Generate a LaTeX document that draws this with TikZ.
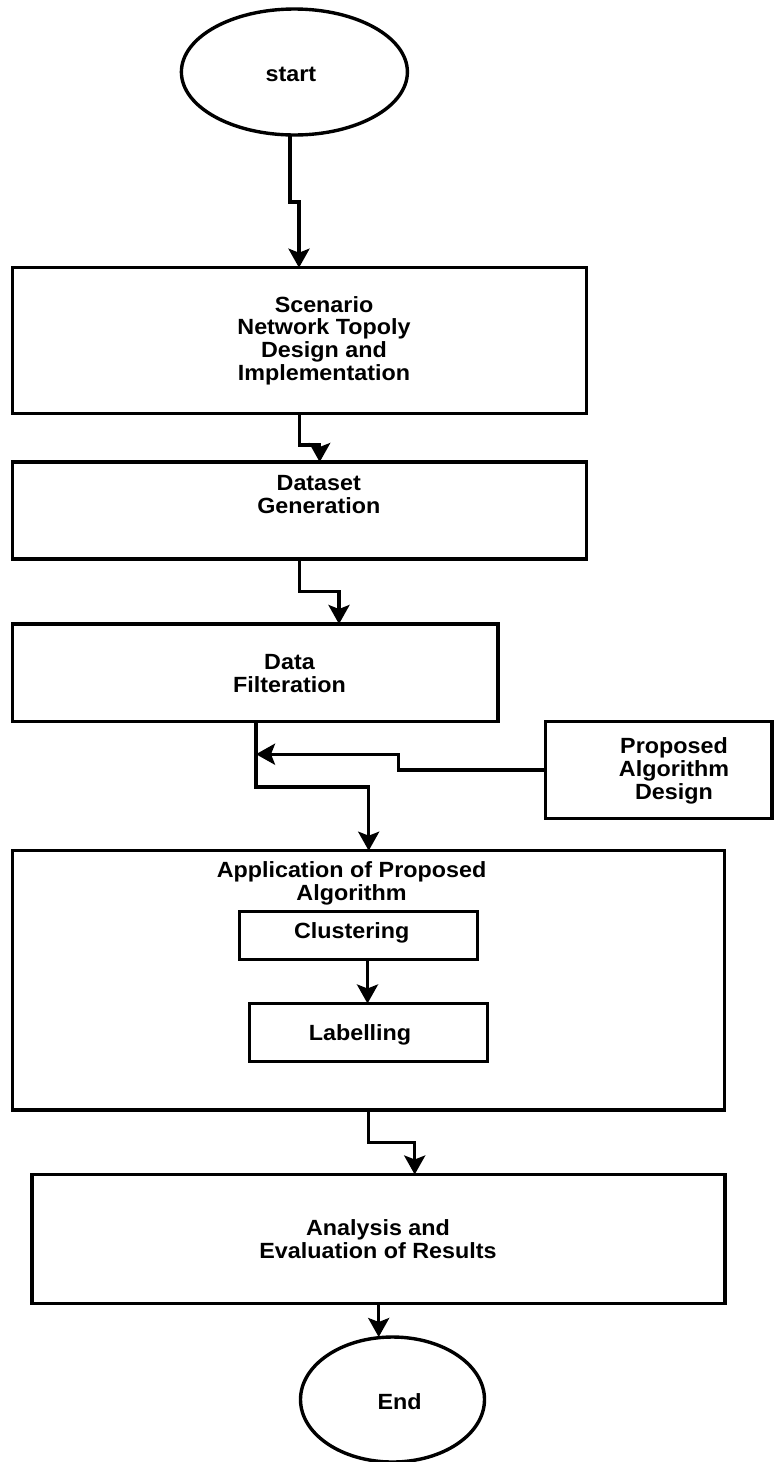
\documentclass[tikz,border=0pt]{standalone}
\usepackage{fontspec}
\setmainfont{Liberation Sans}[FakeStretch=1.06]
\usetikzlibrary{arrows.meta,shapes.geometric}
\begin{document}
\begin{tikzpicture}[x=1pt,y=1pt,
  box/.style={draw,line width=3.4pt,rectangle,inner sep=0pt,outer sep=0pt},
  oval/.style={draw,line width=3.4pt,ellipse,inner sep=0pt,outer sep=0pt},
  txt/.style={font=\fontsize{22}{22.7}\selectfont\bfseries,align=center,inner sep=0pt},
  conn/.style={line width=3.4pt,-{Stealth[length=19pt,width=21pt,inset=4pt]}},
  wire/.style={line width=3.4pt}]
\fill[white] (0,0) rectangle (775,-1462);
\useasboundingbox (0,0) rectangle (775,-1462);

% terminals
\node[oval,minimum width=226pt,minimum height=126pt] (start) at (294.4,-72) {};
\node[txt] (tstart) at (291,-74) {start};
\node[oval,minimum width=184pt,minimum height=125pt] (end) at (392.5,-1399.5) {};
\node[txt] (tend) at (399.7,-1401.5) {End};

% process boxes
\node[box,minimum width=573.8pt,minimum height=145.6pt] (b1) at (299.4,-340.5) {};
\node[txt] (t1) at (324,-340.4) {Scenario\\Network Topoly\\Design and\\Implementation};

\node[box,minimum width=573.8pt,minimum height=97pt] (b2) at (299.4,-510.5) {};
\node[txt] (t2) at (318.8,-494.2) {Dataset\\Generation};

\node[box,minimum width=485.5pt,minimum height=97.7pt] (b3) at (255.25,-672.85) {};
\node[txt] (t3) at (289.5,-673.3) {Data\\Filteration};

\node[box,minimum width=226.3pt,minimum height=96.9pt] (pad) at (658.85,-770.15) {};
\node[txt] (tpad) at (674,-770.7) {Proposed\\Algorithm\\Design};

\node[box,minimum width=712.3pt,minimum height=259.1pt] (app) at (368.55,-980.25) {};
\node[txt] (tapp) at (351.5,-883) {Application of Proposed\\Algorithm};

\node[box,minimum width=238.2pt,minimum height=48pt] (clu) at (358.4,-935.5) {};
\node[txt] (tclu) at (351.7,-932.5) {Clustering};

\node[box,minimum width=238pt,minimum height=58pt] (lab) at (368.3,-1032.5) {};
\node[txt] (tlab) at (360,-1034.5) {Labelling};

\node[box,minimum width=692.9pt,minimum height=129pt] (ana) at (378.55,-1239) {};
\node[txt] (tana) at (378,-1239.4) {Analysis and\\Evaluation of Results};

% connectors
\draw[conn] (290,0 |- start.south) -- (290,-202) -| (299,0 |- b1.north);
\draw[conn] (299.7,0 |- b1.south) -- (299.7,-445) -| (319.7,0 |- b2.north);
\draw[conn] (299.7,0 |- b2.south) -- (299.7,-591.4) -| (339,0 |- b3.north);
\coordinate (join) at (256,-754.2);
\draw[conn] (256,0 |- b3.south) -- (join) -- (256,-786.8) -| (368.7,0 |- app.north);
\draw[conn] (pad.west) -- (398.7,0 |- pad.west) |- (join);
\draw[conn] (367.5,0 |- clu.south) -- (367.5,0 |- lab.north);
\draw[conn] (368.7,0 |- app.south) -- (368.7,-1142.4) -| (414.7,0 |- ana.north);
\draw[conn] (378.7,0 |- ana.south) -- (378.7,0 |- end.north);
\end{tikzpicture}
\end{document}
